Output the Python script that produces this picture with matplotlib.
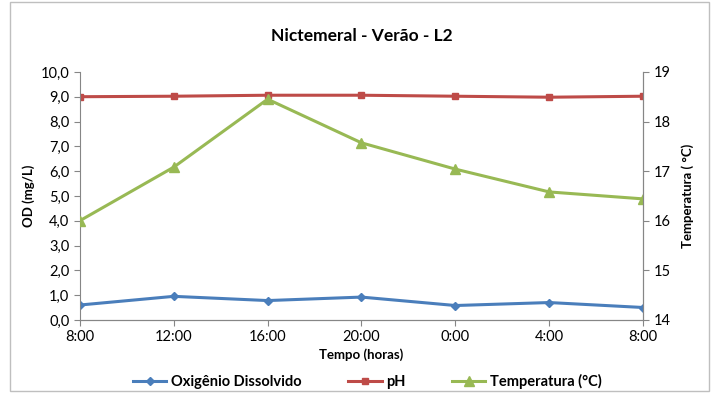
import matplotlib.pyplot as plt
from matplotlib.patches import Rectangle
from matplotlib.ticker import FuncFormatter

plt.rcParams['font.family'] = ['Lato', 'DejaVu Sans']

horas = ['8:00', '12:00', '16:00', '20:00', '0:00', '4:00', '8:00']
od = [0.60, 0.95, 0.78, 0.92, 0.58, 0.70, 0.50]
ph = [9.00, 9.02, 9.06, 9.06, 9.02, 8.98, 9.02]
temperatura = [16.0, 17.08, 18.45, 17.57, 17.04, 16.58, 16.44]

cor_od = '#4A7EBB'
cor_ph = '#BE4B48'
cor_temp = '#98B954'
cinza = '#868686'

fig = plt.figure(figsize=(7.13, 3.93), dpi=100)
ax = fig.add_axes([0.112, 0.186, 0.79, 0.631])
ax2 = ax.twinx()

x = range(len(horas))
l1, = ax.plot(x, od, color=cor_od, lw=2.2, marker='D', ms=4, label='Oxigênio Dissolvido')
l2, = ax.plot(x, ph, color=cor_ph, lw=2.2, marker='s', ms=5, label='pH')
l3, = ax2.plot(x, temperatura, color=cor_temp, lw=2.2, marker='^', ms=7, label='Temperatura (°C)')

ax.set_xlim(0, len(horas) - 1)
ax.set_ylim(0, 10)
ax.set_yticks(range(0, 11))
ax.yaxis.set_major_formatter(FuncFormatter(lambda v, p: f'{v:.1f}'.replace('.', ',')))
ax2.set_ylim(14, 19)
ax2.set_yticks(range(14, 20))
ax.set_xticks(list(x))
ax.set_xticklabels(horas)

for a in (ax, ax2):
    for s in a.spines.values():
        s.set_color(cinza)
    a.spines['top'].set_visible(False)
    a.tick_params(colors=cinza, labelcolor='black', labelsize=10.5, length=4, direction='out')
ax2.spines['left'].set_visible(False)

ax.set_ylabel('OD (mg/L)', fontsize=9.5, fontweight='bold')
ax2.set_ylabel('Temperatura ( °C)', fontsize=9.5, fontweight='bold', labelpad=8)
ax.set_xlabel('Tempo (horas)', fontsize=9.5, fontweight='bold', labelpad=3)
ax.set_title('Nictemeral - Verão - L2', fontsize=12.5, fontweight='bold', pad=22)

fig.legend(handles=[l1, l2, l3], loc='center', bbox_to_anchor=(0.515, 0.03), ncol=3,
           frameon=False, prop={'weight': 'bold', 'size': 10.5},
           columnspacing=3.2, handlelength=2.3, handletextpad=0.3)

fig.patches.append(Rectangle((0.014, 0.005), 0.98, 0.99, transform=fig.transFigure,
                             fill=False, edgecolor='#BFBFBF', lw=1))

fig.savefig('out.png', dpi=100)
